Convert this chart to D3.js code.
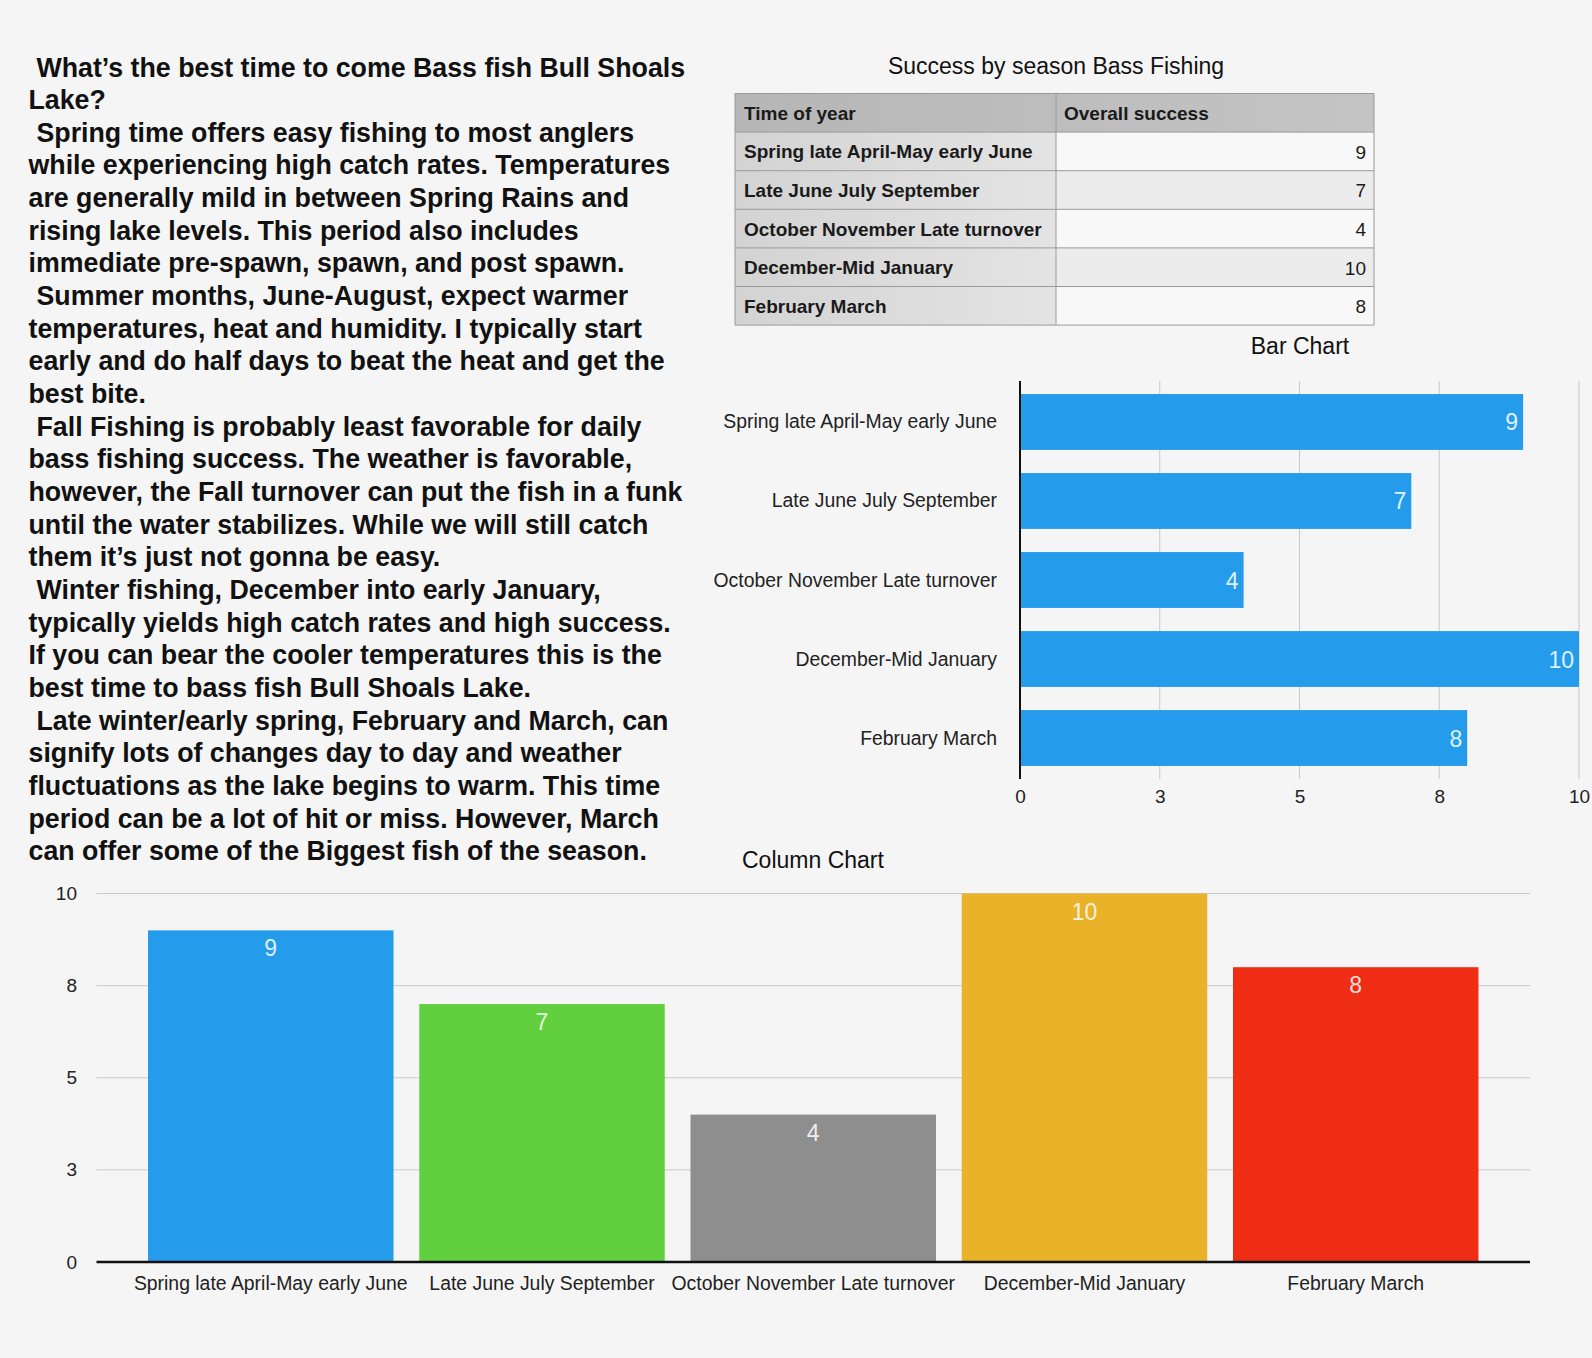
<!DOCTYPE html>
<html>
<head>
<meta charset="utf-8">
<script src="https://cdn.jsdelivr.net/npm/d3@7"></script>
<style>
  html, body { margin: 0; padding: 0; background: #f5f5f5; }
  svg { display: block; font-family: "Liberation Sans", Arial, Helvetica, sans-serif; }
</style>
</head>
<body>
<div id="chart"></div>
<script>
// Data
var categories = [
    "Spring late April-May early June",
    "Late June July September",
    "October November Late turnover",
    "December-Mid January",
    "February March"
];
var successValues = [9, 7, 4, 10, 8];
var axisTicks = [0, 2.5, 5, 7.5, 10];
var tickLabels = ["0", "3", "5", "8", "10"];
var columnColors = ["#259bec", "#62d03e", "#8e8e8e", "#eab228", "#ee2d14"];
var tableHeader = ["Time of year", "Overall success"];
var textLines = [
    " What\u2019s the best time to come Bass fish Bull Shoals",
    "Lake?",
    " Spring time offers easy fishing to most anglers",
    "while experiencing high catch rates. Temperatures",
    "are generally mild in between Spring Rains and",
    "rising lake levels. This period also includes",
    "immediate pre-spawn, spawn, and post spawn.",
    " Summer months, June-August, expect warmer",
    "temperatures, heat and humidity. I typically start",
    "early and do half days to beat the heat and get the",
    "best bite.",
    " Fall Fishing is probably least favorable for daily",
    "bass fishing success. The weather is favorable,",
    "however, the Fall turnover can put the fish in a funk",
    "until the water stabilizes. While we will still catch",
    "them it\u2019s just not gonna be easy.",
    " Winter fishing, December into early January,",
    "typically yields high catch rates and high success.",
    "If you can bear the cooler temperatures this is the",
    "best time to bass fish Bull Shoals Lake.",
    " Late winter/early spring, February and March, can",
    "signify lots of changes day to day and weather",
    "fluctuations as the lake begins to warm. This time",
    "period can be a lot of hit or miss. However, March",
    "can offer some of the Biggest fish of the season."
];

var width = 1592, height = 1358;

var svg = d3.select("#chart").append("svg")
        .attr("width", width)
        .attr("height", height);

svg.append("rect")
        .attr("width", width)
        .attr("height", height)
        .attr("fill", "#f5f5f5");

//Left text block
var textBlock = svg.append("g").attr("class", "story");
var lines = textBlock.selectAll("text")
        .data(textLines)
        .enter().append("text")
        .attr("x", function (d) { return d.charAt(0) === " " ? 36.5 : 28.5; })
        .attr("y", function (d, i) { return 76.5 + i * 32.66; })
        .attr("font-size", 26)
        .attr("font-weight", "bold")
        .attr("fill", "#111")
        .text(function (d) { return d.trim(); });

//Fit font so the widest line matches the picture
var probe = lines.filter(function (d, i) { return i === 13; }).node();
var fitted = 26 * 654 / probe.getComputedTextLength();
lines.attr("font-size", fitted);

//Table
var defs = svg.append("defs");
var g1 = defs.append("linearGradient").attr("id", "labelGrad");
g1.append("stop").attr("offset", "0%").attr("stop-color", "#d3d3d3");
g1.append("stop").attr("offset", "100%").attr("stop-color", "#e4e4e4");
var g2 = defs.append("linearGradient").attr("id", "headGrad");
g2.append("stop").attr("offset", "0%").attr("stop-color", "#b6b6b6");
g2.append("stop").attr("offset", "100%").attr("stop-color", "#c4c4c4");

svg.append("text")
        .attr("x", 1056)
        .attr("y", 74)
        .attr("text-anchor", "middle")
        .attr("font-size", 23)
        .attr("fill", "#111")
        .text("Success by season Bass Fishing");

var tLeft = 735, tSplit = 1056, tRight = 1374, tTop = 93.5, rowH = 38.6;
var table = svg.append("g").attr("class", "table");

table.append("rect")
        .attr("x", tLeft).attr("y", tTop)
        .attr("width", tRight - tLeft).attr("height", rowH)
        .attr("fill", "url(#headGrad)");
table.selectAll(".head")
        .data(tableHeader)
        .enter().append("text")
        .attr("class", "head")
        .attr("x", function (d, i) { return i === 0 ? tLeft + 9 : tSplit + 8; })
        .attr("y", tTop + rowH / 2 + 7)
        .attr("font-size", 19)
        .attr("font-weight", "bold")
        .attr("fill", "#1a1a1a")
        .text(function (d) { return d; });

var rows = table.selectAll(".row")
        .data(categories)
        .enter().append("g")
        .attr("class", "row")
        .attr("transform", function (d, i) {
            return "translate(0," + (tTop + rowH * (i + 1)) + ")";
        });

rows.append("rect")
        .attr("x", tLeft).attr("width", tSplit - tLeft).attr("height", rowH)
        .attr("fill", "url(#labelGrad)");
rows.append("rect")
        .attr("x", tSplit).attr("width", tRight - tSplit).attr("height", rowH)
        .attr("fill", function (d, i) { return i % 2 === 0 ? "#f8f8f8" : "#ececec"; });
rows.append("text")
        .attr("x", tLeft + 9)
        .attr("y", rowH / 2 + 7)
        .attr("font-size", 19)
        .attr("font-weight", "bold")
        .attr("fill", "#1a1a1a")
        .text(function (d) { return d; });
rows.append("text")
        .attr("x", tRight - 8)
        .attr("y", rowH / 2 + 7.5)
        .attr("text-anchor", "end")
        .attr("font-size", 19)
        .attr("fill", "#1a1a1a")
        .text(function (d, i) { return successValues[i]; });

//Table grid lines
var tBottom = tTop + rowH * (categories.length + 1);
d3.range(categories.length + 2).forEach(function (i) {
    table.append("line")
            .attr("x1", tLeft).attr("x2", tRight)
            .attr("y1", tTop + i * rowH).attr("y2", tTop + i * rowH)
            .attr("stroke", "#9a9a9a").attr("stroke-width", 1);
});
[tLeft, tSplit, tRight].forEach(function (x) {
    table.append("line")
            .attr("x1", x).attr("x2", x)
            .attr("y1", tTop).attr("y2", tBottom)
            .attr("stroke", "#9a9a9a").attr("stroke-width", 1);
});

//Bar chart
svg.append("text")
        .attr("x", 1300)
        .attr("y", 354)
        .attr("text-anchor", "middle")
        .attr("font-size", 23)
        .attr("fill", "#111")
        .text("Bar Chart");

var barX = d3.scaleLinear().domain([0, 10]).range([1020, 1579]);
var barY = d3.scaleBand().domain(categories).range([381, 779])
        .paddingInner(0.293).paddingOuter(0.165);

var bar = svg.append("g").attr("class", "barChart");

bar.selectAll(".grid")
        .data(axisTicks.slice(1))
        .enter().append("line")
        .attr("class", "grid")
        .attr("x1", barX).attr("x2", barX)
        .attr("y1", 381).attr("y2", 779)
        .attr("stroke", "#c9c9c9").attr("stroke-width", 1);

bar.selectAll(".bar")
        .data(successValues)
        .enter().append("rect")
        .attr("class", "bar")
        .attr("x", barX(0))
        .attr("y", function (d, i) { return barY(categories[i]); })
        .attr("width", function (d) { return barX(d) - barX(0); })
        .attr("height", barY.bandwidth())
        .attr("fill", "#259bec");

bar.selectAll(".barValue")
        .data(successValues)
        .enter().append("text")
        .attr("class", "barValue")
        .attr("x", function (d) { return barX(d) - 5; })
        .attr("y", function (d, i) { return barY(categories[i]) + barY.bandwidth() / 2 + 8.5; })
        .attr("text-anchor", "end")
        .attr("font-size", 23)
        .attr("fill", "#dff2ff")
        .text(function (d) { return d; });

bar.append("line")
        .attr("x1", barX(0)).attr("x2", barX(0))
        .attr("y1", 381).attr("y2", 779)
        .attr("stroke", "#111").attr("stroke-width", 2);

bar.append("g")
        .attr("transform", "translate(0,779)")
        .call(d3.axisBottom(barX)
                .tickValues(axisTicks)
                .tickSize(0)
                .tickPadding(11)
                .tickFormat(function (d, i) { return tickLabels[i]; }))
        .call(function (g) { g.select(".domain").remove(); })
        .selectAll("text")
        .attr("font-size", 19)
        .attr("font-family", "Liberation Sans, Arial, sans-serif")
        .attr("fill", "#222");

bar.selectAll(".barLabel")
        .data(categories)
        .enter().append("text")
        .attr("class", "barLabel")
        .attr("x", 997)
        .attr("y", function (d) { return barY(d) + barY.bandwidth() / 2 + 6.5; })
        .attr("text-anchor", "end")
        .attr("font-size", 19.4)
        .attr("fill", "#222")
        .text(function (d) { return d; });

//Column chart
svg.append("text")
        .attr("x", 742)
        .attr("y", 868)
        .attr("font-size", 23)
        .attr("fill", "#111")
        .text("Column Chart");

var colX = d3.scaleBand().domain(categories).range([96.5, 1530])
        .paddingInner(0.095).paddingOuter(0.19);
var colY = d3.scaleLinear().domain([0, 10]).range([1262, 893.5]);

var col = svg.append("g").attr("class", "columnChart");

col.selectAll(".grid")
        .data(axisTicks.slice(1))
        .enter().append("line")
        .attr("class", "grid")
        .attr("x1", 96.5).attr("x2", 1530)
        .attr("y1", colY).attr("y2", colY)
        .attr("stroke", "#c9c9c9").attr("stroke-width", 1);

col.selectAll(".col")
        .data(successValues)
        .enter().append("rect")
        .attr("class", "col")
        .attr("x", function (d, i) { return colX(categories[i]); })
        .attr("y", function (d) { return colY(d); })
        .attr("width", colX.bandwidth())
        .attr("height", function (d) { return colY(0) - colY(d); })
        .attr("fill", function (d, i) { return columnColors[i]; });

col.selectAll(".colValue")
        .data(successValues)
        .enter().append("text")
        .attr("class", "colValue")
        .attr("x", function (d, i) { return colX(categories[i]) + colX.bandwidth() / 2; })
        .attr("y", function (d) { return colY(d) + 26; })
        .attr("text-anchor", "middle")
        .attr("font-size", 23)
        .attr("fill", "#ffffff")
        .attr("fill-opacity", 0.85)
        .text(function (d) { return d; });

col.append("line")
        .attr("x1", 96.5).attr("x2", 1530)
        .attr("y1", colY(0)).attr("y2", colY(0))
        .attr("stroke", "#111").attr("stroke-width", 2.5);

col.append("g")
        .attr("transform", "translate(77,0)")
        .call(d3.axisLeft(colY)
                .tickValues(axisTicks)
                .tickSize(0)
                .tickPadding(0)
                .tickFormat(function (d, i) { return tickLabels[i]; }))
        .call(function (g) { g.select(".domain").remove(); })
        .selectAll("text")
        .attr("font-size", 19)
        .attr("font-family", "Liberation Sans, Arial, sans-serif")
        .attr("fill", "#222");

col.selectAll(".colLabel")
        .data(categories)
        .enter().append("text")
        .attr("class", "colLabel")
        .attr("x", function (d) { return colX(d) + colX.bandwidth() / 2; })
        .attr("y", 1290)
        .attr("text-anchor", "middle")
        .attr("font-size", 19.4)
        .attr("fill", "#222")
        .text(function (d) { return d; });
</script>
</body>
</html>
